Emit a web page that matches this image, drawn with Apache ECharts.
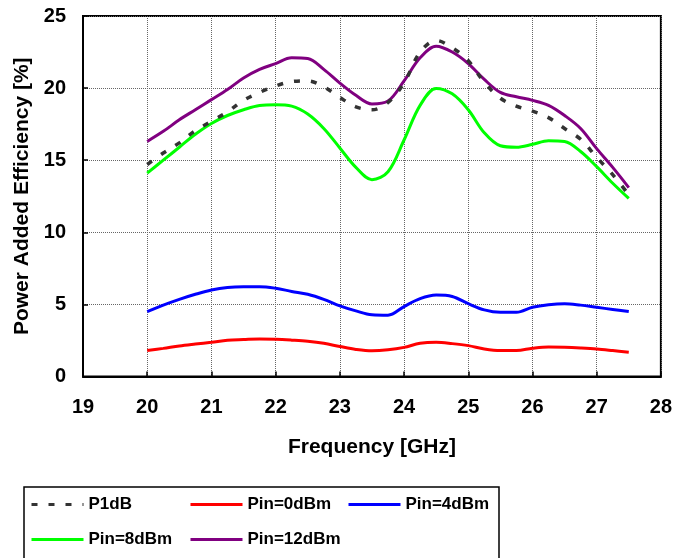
<!DOCTYPE html>
<html>
<head>
<meta charset="utf-8">
<script src="https://cdn.jsdelivr.net/npm/echarts@6/dist/echarts.min.js"></script>
<style>
  html, body { margin: 0; padding: 0; background: #fff; }
  #chart { width: 675px; height: 558px; }
</style>
</head>
<body>
<div id="chart"></div>
<script>
// frequency points [GHz]
const freqs = [20, 20.25, 20.5, 20.75, 21, 21.25, 21.5, 21.75, 22, 22.25, 22.5, 22.75, 23, 23.25, 23.5, 23.75,
  24, 24.25, 24.5, 24.75, 25, 25.25, 25.5, 25.75, 26, 26.25, 26.5, 26.75, 27, 27.25, 27.5];

// PAE [%] per input power
const p1dB = [14.7, 15.5, 16.2, 17.05, 17.7, 18.35, 19.15, 19.7, 20.15, 20.45, 20.5, 20.1, 19.35, 18.7, 18.5, 19.0,
  20.35, 22.5, 23.3, 22.8, 21.9, 20.4, 19.3, 18.75, 18.4, 17.95, 17.2, 16.45, 15.2, 14.0, 12.6];
const pin0 = [1.8, 1.95, 2.12, 2.25, 2.37, 2.51, 2.56, 2.6, 2.58, 2.52, 2.44, 2.3, 2.08, 1.88, 1.78, 1.85,
  2.02, 2.3, 2.37, 2.28, 2.14, 1.91, 1.8, 1.8, 1.96, 2.05, 2.03, 1.98, 1.91, 1.8, 1.68];
const pin4 = [4.5, 4.95, 5.35, 5.7, 6.0, 6.18, 6.23, 6.23, 6.12, 5.9, 5.7, 5.35, 4.9, 4.55, 4.28, 4.25,
  4.85, 5.4, 5.65, 5.55, 5.05, 4.62, 4.45, 4.45, 4.8, 4.98, 5.05, 4.95, 4.8, 4.65, 4.5];
const pin8 = [14.1, 15.0, 15.9, 16.8, 17.55, 18.1, 18.5, 18.8, 18.85, 18.75, 18.2, 17.2, 15.85, 14.5, 13.65, 14.2,
  16.4, 18.8, 19.98, 19.6, 18.5, 16.9, 16.0, 15.9, 16.1, 16.35, 16.3, 15.6, 14.55, 13.4, 12.35];
const pin12 = [16.3, 17.0, 17.8, 18.5, 19.2, 19.9, 20.7, 21.3, 21.7, 22.1, 22.05, 21.3, 20.35, 19.5, 18.9, 19.1,
  20.5, 22.1, 22.9, 22.5, 21.7, 20.6, 19.7, 19.4, 19.15, 18.8, 18.1, 17.2, 15.8, 14.5, 13.1];

const seriesNames = ["P1dB", "Pin=0dBm", "Pin=4dBm", "Pin=8dBm", "Pin=12dBm"];
const seriesData = [p1dB, pin0, pin4, pin8, pin12];
const seriesColors = ["#333333", "#ff0000", "#0000ff", "#00ff00", "#800080"];

const font = "Liberation Sans";
const chart = echarts.init(document.getElementById("chart"));

// legend item positions inside the box below the plot
const legendPos = [
  { left: 30, top: 496 },
  { left: 189, top: 496 },
  { left: 347, top: 496 },
  { left: 30, top: 531 },
  { left: 189, top: 531 },
];

const series = seriesNames.map((name, i) => ({
  name: name,
  type: "line",
  smooth: 0.35,
  symbol: "none",
  z: i === 0 ? 5 : 3,
  data: freqs.map((f, k) => [f, seriesData[i][k]]),
  lineStyle: {
    color: seriesColors[i],
    width: i === 0 ? 3.5 : 3,
    type: i === 0 ? [6, 11] : "solid",
  },
  itemStyle: { color: seriesColors[i] },
}));

const legends = seriesNames.map((name, i) => ({
  data: [name],
  left: legendPos[i].left,
  top: legendPos[i].top,
  padding: 0,
  itemWidth: 52,
  itemHeight: 14,
  itemGap: 5,
  itemStyle: { opacity: 0 }, // hide the marker, keep only the line
  lineStyle: { width: 3 },
  textStyle: { fontFamily: font, fontWeight: "bold", fontSize: 17, color: "#000" },
}));

chart.setOption({
  animation: false,
  backgroundColor: "#fff",
  grid: {
    left: 83, right: 12, top: 16, bottom: 181.5,
    show: true, borderColor: "#000", borderWidth: 2, backgroundColor: "transparent",
  },
  xAxis: {
    type: "value",
    min: 19, max: 28, interval: 1,
    name: "Frequency [GHz]",
    nameLocation: "middle",
    nameGap: 60,
    nameTextStyle: { fontFamily: font, fontWeight: "bold", fontSize: 21, color: "#000" },
    axisLine: { lineStyle: { color: "#000", width: 2 } },
    axisTick: { inside: true, length: 5, lineStyle: { color: "#000", width: 1.5 } },
    axisLabel: { margin: 21, fontFamily: font, fontWeight: "bold", fontSize: 20, color: "#000" },
    splitLine: { show: true, lineStyle: { color: "#666", type: "dotted", width: 1 } },
  },
  yAxis: {
    type: "value",
    min: 0, max: 25, interval: 5,
    name: "Power Added Efficiency [%]",
    nameLocation: "middle",
    nameGap: 50,
    nameTextStyle: { fontFamily: font, fontWeight: "bold", fontSize: 21, color: "#000" },
    axisLine: { show: true, lineStyle: { color: "#000", width: 2 } },
    axisTick: { show: true, inside: true, length: 5, lineStyle: { color: "#000", width: 1.5 } },
    axisLabel: { margin: 17, fontFamily: font, fontWeight: "bold", fontSize: 20, color: "#000" },
    splitLine: { show: true, lineStyle: { color: "#666", type: "dotted", width: 1 } },
  },
  legend: legends,
  graphic: [
    {
      type: "rect",
      shape: { x: 24, y: 487, width: 475, height: 80 },
      style: { fill: "none", stroke: "#000", lineWidth: 1.5 },
      silent: true,
    },
  ],
  series: series,
});
</script>
</body>
</html>
